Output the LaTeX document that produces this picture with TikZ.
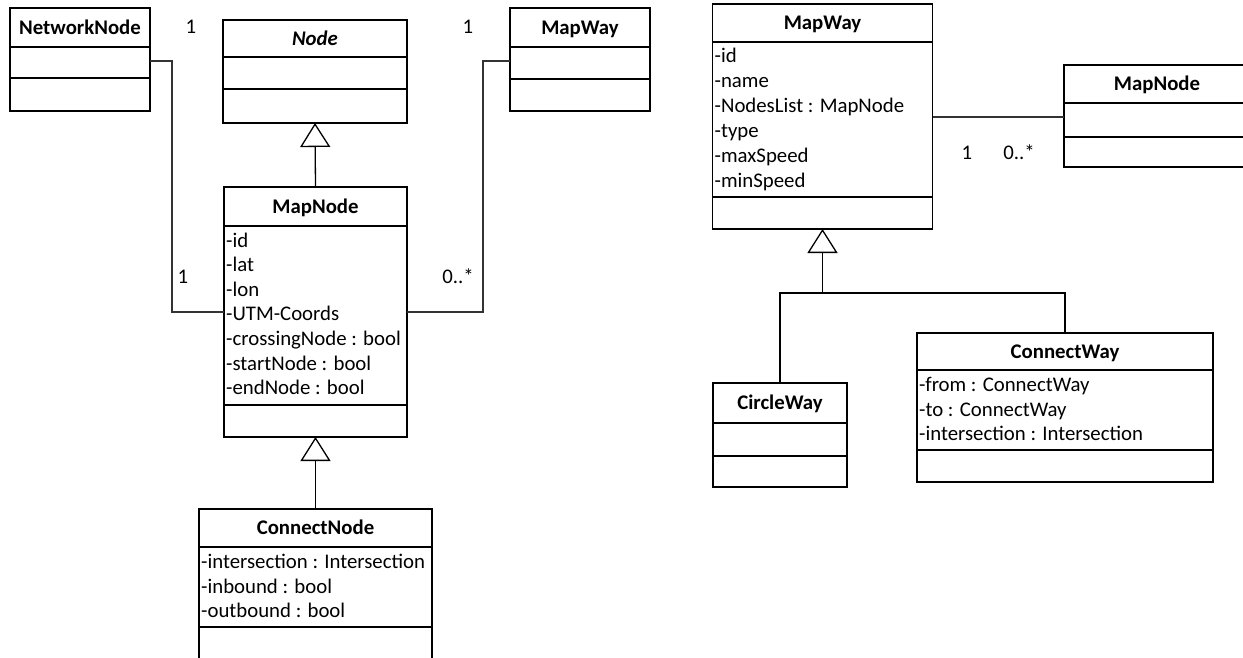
\documentclass[tikz,border=0pt]{standalone}
\usepackage{fontspec}
\setmainfont{Carlito}
\usetikzlibrary{arrows.meta}
\begin{document}
\begin{tikzpicture}[x=1pt,y=-1pt,
  font=\fontsize{20.8}{24.8}\selectfont,
  cls/.style={draw, line width=1.6pt, inner sep=0pt, outer sep=0pt, anchor=north west},
  ttl/.style={font=\fontsize{20.8}{24.8}\selectfont\bfseries, inner sep=0pt, anchor=base},
  attr/.style={anchor=base west, inner sep=0pt},
  mult/.style={inner sep=0pt, anchor=base},
  div/.style={line width=1.6pt},
  assoc/.style={draw=black!80, line width=1.1pt},
  genline/.style={draw=black, line width=1.2pt},
  gen/.style={draw=black, line width=1.3pt, -{Triangle[open, length=24pt, width=30pt]}}
]
\useasboundingbox (0,0) rectangle (1243,658);
\clip (0,0) rectangle (1243,658);

% ---------- left diagram ----------
% NetworkNode
\node[cls, minimum width=140pt, minimum height=103pt] (nn) at (10,8) {};
\draw[div] (nn.west |- 0,47) -- (nn.east |- 0,47);
\draw[div] (nn.west |- 0,78) -- (nn.east |- 0,78);
\node[ttl] (nnt) at (80,34.2) {NetworkNode};

% Node (abstract)
\node[cls, minimum width=184pt, minimum height=103pt] (nd) at (223,20) {};
\draw[div] (nd.west |- 0,57) -- (nd.east |- 0,57);
\draw[div] (nd.west |- 0,89) -- (nd.east |- 0,89);
\node[ttl, font=\fontsize{20.8}{24.8}\selectfont\bfseries\itshape] (ndt) at (315,45.2) {Node};

% MapWay (left)
\node[cls, minimum width=140pt, minimum height=103pt] (mwl) at (510,8) {};
\draw[div] (mwl.west |- 0,47) -- (mwl.east |- 0,47);
\draw[div] (mwl.west |- 0,79) -- (mwl.east |- 0,79);
\node[ttl] (mwlt) at (580,34.2) {MapWay};

% MapNode
\node[cls, minimum width=183pt, minimum height=250pt] (mn) at (224,187) {};
\draw[div] (mn.west |- 0,226) -- (mn.east |- 0,226);
\draw[div] (mn.west |- 0,405) -- (mn.east |- 0,405);
\node[ttl] (mnt) at (315.5,213.2) {MapNode};
\foreach \t [count=\i from 0] in {-id,-lat,-lon,-UTM-Coords,-crossingNode : bool,-startNode : bool,-endNode : bool}
  \node[attr] (mna\i) at (226,247+\i*24.65) {\t};

% ConnectNode
\node[cls, minimum width=233pt, minimum height=160pt] (cn) at (199,509) {};
\draw[div] (cn.west |- 0,547) -- (cn.east |- 0,547);
\draw[div] (cn.west |- 0,627) -- (cn.east |- 0,627);
\node[ttl] (cnt) at (315.5,534.7) {ConnectNode};
\foreach \t [count=\i from 0] in {-intersection : Intersection,-inbound : bool,-outbound : bool}
  \node[attr] (cna\i) at (201,568.5+\i*24.7) {\t};

% associations
\draw[assoc] (nn.east |- 0,61) -- (172,61) |- (mn.west);
\draw[assoc] (mwl.west |- 0,61) -- (483,61) |- (mn.east);
\node[mult] (m1) at (191,33.7) {1};
\node[mult] (m2) at (468,33.7) {1};
\node[mult] (m3) at (183,283.7) {1};
\node[mult] (m4) at (458,283.7) {0..*};

% generalizations
\draw[gen] (mn.north) -- (nd.south);
\draw[gen] (cn.north) -- (mn.south);

% ---------- right diagram ----------
% MapWay
\node[cls, minimum width=220pt, minimum height=225pt] (mw) at (712.5,4) {};
\draw[div] (mw.west |- 0,42) -- (mw.east |- 0,42);
\draw[div] (mw.west |- 0,197) -- (mw.east |- 0,197);
\node[ttl] (mwt) at (822.5,29.7) {MapWay};
\foreach \t [count=\i from 0] in {-id,-name,-NodesList : MapNode,-type,-maxSpeed,-minSpeed}
  \node[attr] (mwa\i) at (714.5,63+\i*24.9) {\t};

% MapNode (right)
\node[cls, minimum width=186pt, minimum height=102pt] (mn2) at (1064,65) {};
\draw[div] (mn2.west |- 0,103) -- (mn2.east |- 0,103);
\draw[div] (mn2.west |- 0,137) -- (mn2.east |- 0,137);
\node[ttl] (mn2t) at (1157,90.7) {MapNode};

\draw[assoc] (mw.east |- 0,117) -- (mn2.west |- 0,117);
\node[mult] (m5) at (967,159.7) {1};
\node[mult] (m6) at (1019,159.7) {0..*};

% CircleWay
\node[cls, minimum width=134pt, minimum height=104pt] (cw) at (713,383) {};
\draw[div] (cw.west |- 0,423) -- (cw.east |- 0,423);
\draw[div] (cw.west |- 0,456) -- (cw.east |- 0,456);
\node[ttl] (cwt) at (780,409.7) {CircleWay};

% ConnectWay
\node[cls, minimum width=296pt, minimum height=149pt] (cwy) at (917,333) {};
\draw[div] (cwy.west |- 0,370) -- (cwy.east |- 0,370);
\draw[div] (cwy.west |- 0,450) -- (cwy.east |- 0,450);
\node[ttl] (cwyt) at (1065,358.2) {ConnectWay};
\foreach \t [count=\i from 0] in {-from : ConnectWay,-to : ConnectWay,-intersection : Intersection}
  \node[attr] (cwya\i) at (919,391.5+\i*24.6) {\t};

% generalization tree
\coordinate (j) at (822.5,293);
\draw[genline] (cw.north) |- (j) -| (cwy.north);
\draw[gen] (j) -- (mw.south);
\end{tikzpicture}
\end{document}
